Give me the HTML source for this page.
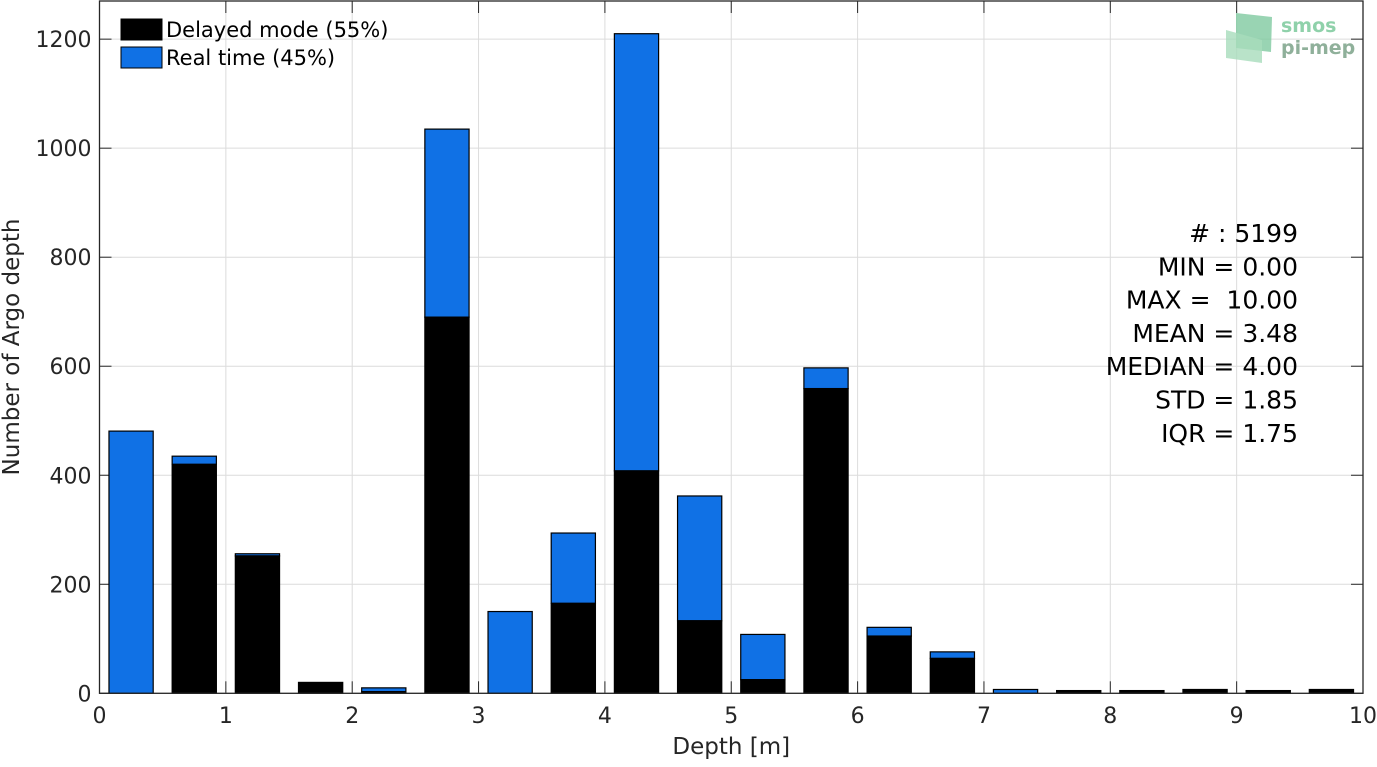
<!DOCTYPE html>
<html><head><meta charset="utf-8"><style>
body{margin:0;background:#fff;font-family:"Liberation Sans","DejaVu Sans",sans-serif;}
svg text{font-family:"DejaVu Sans","Liberation Sans",sans-serif;white-space:pre;}
</style></head><body>
<svg id="c" width="1377" height="762"></svg>
<script>
const binCenters=[0.25,0.75,1.25,1.75,2.25,2.75,3.25,3.75,4.25,4.75,5.25,5.75,6.25,6.75,7.25,7.75,8.25,8.75,9.25,9.75];
const totalCounts=[481,435,256,20,10,1035,150,294,1210,362,108,597,121,76,7,5,5,7,5,7];
const delayedCounts=[0,420,252,20,3,690,0,165,408,133,25,559,105,64,0,5,5,7,5,7];
const xTicks=[0,1,2,3,4,5,6,7,8,9,10];
const yTicks=[0,200,400,600,800,1000,1200];
const statsLines=["# : 5199","MIN = 0.00","MAX =  10.00","MEAN = 3.48","MEDIAN = 4.00","STD = 1.85","IQR = 1.75"];
const L=99.5,R=1363,T=1,B=693.3,XMAX=10,YMAX=1270,BW=0.35;
const sx=v=>L+(v/XMAX)*(R-L), sy=v=>B-(v/YMAX)*(B-T);
const svg=document.getElementById('c');const NS='http://www.w3.org/2000/svg';
function mk(t,a,p){const e=document.createElementNS(NS,t);for(const k in a)e.setAttribute(k,a[k]);(p||svg).appendChild(e);return e;}
mk('rect',{x:L,y:T,width:R-L,height:B-T,fill:'#fff'});
xTicks.forEach(v=>{const g=mk('line',{x1:sx(v),x2:sx(v),y1:T,y2:B,stroke:'#dcdcdc','stroke-width':1});


const t=mk('text',{x:sx(v),y:723,'text-anchor':'middle','font-size':22,fill:'#262626'});t.textContent=v;


mk('line',{x1:sx(v),x2:sx(v),y1:B,y2:B-12,stroke:'#262626'});mk('line',{x1:sx(v),x2:sx(v),y1:T,y2:T+12,stroke:'#262626'});});
yTicks.forEach(v=>{const g=mk('line',{x1:L,x2:R,y1:sy(v),y2:sy(v),stroke:'#dcdcdc','stroke-width':1});


const t=mk('text',{x:L-8,y:sy(v)+8,'text-anchor':'end','font-size':22,fill:'#262626'});t.textContent=v;


mk('line',{x1:L,x2:L+12,y1:sy(v),y2:sy(v),stroke:'#262626'});mk('line',{x1:R,x2:R-12,y1:sy(v),y2:sy(v),stroke:'#262626'});});
binCenters.forEach((c,i)=>{const x0=sx(c-BW/2),w=sx(c+BW/2)-x0;
if(totalCounts[i]>delayedCounts[i]){const r=mk('rect',{x:x0,y:sy(totalCounts[i]),width:w,height:sy(delayedCounts[i])-sy(totalCounts[i]),fill:'#1071e5',stroke:'#000','stroke-width':1.2});

}
if(delayedCounts[i]>0){const r=mk('rect',{x:x0,y:sy(delayedCounts[i]),width:w,height:B-sy(delayedCounts[i]),fill:'#000',stroke:'#000','stroke-width':1.2});

}});
mk('rect',{x:L,y:T,width:R-L,height:B-T,fill:'none',stroke:'#262626','stroke-width':1.3});
const xl=mk('text',{x:(L+R)/2,y:754,'text-anchor':'middle','font-size':23,fill:'#262626'});xl.textContent='Depth [m]';

const yl=mk('text',{x:0,y:0,'text-anchor':'middle','font-size':23,fill:'#262626',transform:'translate(19,347) rotate(-90)'});yl.textContent='Number of Argo depth';

[['#000','Delayed mode (55%)',19],['#1071e5','Real time (45%)',47]].forEach(([col,lab,y])=>{
const r=mk('rect',{x:121,y:y,width:41,height:21,fill:col,stroke:'#000','stroke-width':1});

const t=mk('text',{x:166,y:y+18,'font-size':21,fill:'#000'});t.textContent=lab;
});
statsLines.forEach((s,i)=>{const t=mk('text',{x:1298,y:242+i*33.3,'text-anchor':'end','font-size':25,fill:'#000'});t.textContent=s;
});
const lg=mk('g',{});
mk('polygon',{points:'1236,13 1272,17 1271,52 1236,48',fill:'#7fc9a0',opacity:0.8},lg);
mk('polygon',{points:'1226,30 1262,40 1262,63 1226,58',fill:'#a7dcbc',opacity:0.8},lg);
const s1=mk('text',{x:1281,y:32,'font-size':19,'font-weight':'bold',fill:'#8fd1aa'},lg);s1.textContent='smos';
const s2=mk('text',{x:1281,y:54,'font-size':19,'font-weight':'bold',fill:'#8fb09a'},lg);s2.textContent='pi-mep';
</script>
</body></html>
